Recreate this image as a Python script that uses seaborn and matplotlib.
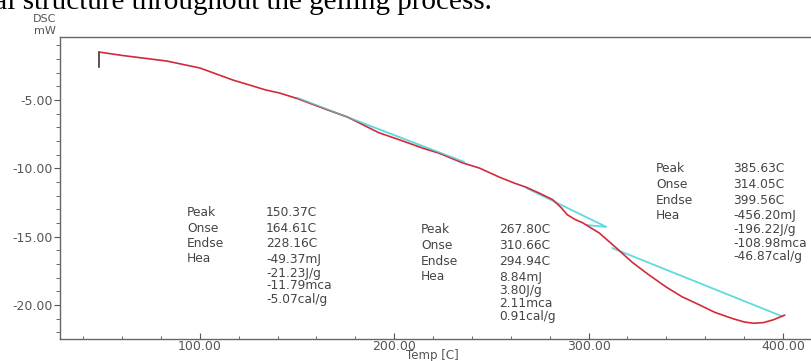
import matplotlib
matplotlib.use("Agg")
import matplotlib.pyplot as plt
import seaborn as sns
import pandas as pd
from matplotlib.ticker import MultipleLocator, FormatStrFormatter

# ---------------- data ----------------
temp = [48, 48, 60, 83, 100, 117, 134, 141, 150, 165, 176, 192, 203, 215, 223, 235,
        244, 254, 262, 268, 275, 281.5, 286, 289, 293, 297, 301, 305.6, 310, 314.4,
        322.6, 331, 340, 348, 357, 365, 374, 380, 385, 390, 395, 401]
dsc = [-2.6, -1.5, -1.75, -2.16, -2.67, -3.55, -4.28, -4.5, -4.9, -5.7, -6.26, -7.4,
       -7.94, -8.55, -8.9, -9.6, -10.0, -10.65, -11.1, -11.4, -11.85, -12.3, -12.9,
       -13.4, -13.75, -14.0, -14.35, -14.75, -15.3, -15.85, -16.9, -17.8, -18.7,
       -19.4, -20.0, -20.55, -21.0, -21.25, -21.35, -21.3, -21.1, -20.75]

base1_t = [150, 236]
base1_y = [-4.85, -9.55]
base2_t = [268, 309.2, 299]
base2_y = [-11.45, -14.3, -14.16]
base3_t = [312.3, 399.8]
base3_y = [-15.85, -20.85]

labels = ["Peak", "Onse", "Endse", "Hea"]
block1 = ["150.37C", "164.61C", "228.16C", "-49.37mJ", "-21.23J/g", "-11.79mca", "-5.07cal/g"]
block2 = ["267.80C", "310.66C", "294.94C", "8.84mJ", "3.80J/g", "2.11mca", "0.91cal/g"]
block3 = ["385.63C", "314.05C", "399.56C", "-456.20mJ", "-196.22J/g", "-108.98mca", "-46.87cal/g"]

x_ticks = [100, 200, 300, 400]
y_ticks = [-5, -10, -15, -20]

# ---------------- figure ----------------
sns.set_theme(style="white")
plt.rcParams["font.family"] = ["DejaVu Sans"]

W, H = 812, 361
fig = plt.figure(figsize=(W / 100, H / 100), dpi=100)
L, T, R, B = 60, 37, 812, 339
ax = fig.add_axes([L / W, (H - B) / H, (R - L) / W, (B - T) / H])

red = "#d22a3c"
cyan = "#5fdade"

for bt, by in [(base1_t, base1_y), (base2_t, base2_y), (base3_t, base3_y)]:
    sns.lineplot(x=bt, y=by, ax=ax, color=cyan, lw=1.3, sort=False, estimator=None)
df = pd.DataFrame({"temp": temp, "dsc": dsc})
sns.lineplot(data=df, x="temp", y="dsc", ax=ax, color=red, lw=1.2, sort=False, estimator=None)
ax.plot(base1_t, base1_y, color=cyan, lw=1.0, alpha=0.6)
ax.plot(temp[:2], dsc[:2], color="#555555", lw=1.3)

ax.set_xlim(28, 415)
ax.set_ylim(-22.5, -0.4)

ax.set_xticks(x_ticks)
ax.set_yticks(y_ticks)
ax.xaxis.set_minor_locator(MultipleLocator(20))
ax.yaxis.set_minor_locator(MultipleLocator(1))
ax.xaxis.set_major_formatter(FormatStrFormatter("%.2f"))
ax.yaxis.set_major_formatter(FormatStrFormatter("%.2f"))

grey = "#555555"
ax.tick_params(axis="y", which="major", direction="out", length=4, width=0.8,
               color=grey, labelsize=9, labelcolor=grey, pad=1, left=True)
ax.tick_params(axis="y", which="minor", direction="out", length=3, width=0.6,
               color=grey, left=True)
ax.tick_params(axis="x", which="major", direction="in", length=4, width=0.8,
               color=grey, labelsize=9, labelcolor=grey, pad=1, bottom=True)
ax.tick_params(axis="x", which="minor", direction="in", length=2, width=0.6,
               color=grey, bottom=True)

for s in ["left", "bottom", "top"]:
    ax.spines[s].set_color("#666666")
    ax.spines[s].set_linewidth(1.0)
ax.spines["right"].set_visible(False)
ax.set_xlabel("")
ax.set_ylabel("")


def fx(px):
    return px / W


def fy(py):
    return 1 - py / H


fig.text(fx(432), fy(356), "Temp [C]", ha="center", va="center", fontsize=8.5, color=grey)
fig.text(fx(45), fy(19.5), "DSC", ha="center", va="center", fontsize=8, color=grey)
fig.text(fx(45), fy(31), "mW", ha="center", va="center", fontsize=8, color=grey)

fig.text(fx(-30), fy(9), "ural structure throughout the gelling process.",
         family=["Liberation Serif"], fontsize=21, color="black", va="baseline", ha="left")

blocks = [
    (187, 266, [212, 228, 243.5, 259, 273, 285.5, 299], block1),
    (421, 499, [229, 245.5, 261.5, 277, 290.5, 303.5, 316.5], block2),
    (656, 733, [169, 184.5, 200.5, 215.5, 230, 243.5, 256.5], block3),
]
for lx, vx, ys, vals in blocks:
    for lab, yy in zip(labels, ys):
        fig.text(fx(lx), fy(yy), lab, ha="left", va="center", fontsize=8.8, color="#444444")
    for v, yy in zip(vals, ys):
        fig.text(fx(vx), fy(yy), v, ha="left", va="center", fontsize=8.8, color="#444444")

fig.savefig("out.png", dpi=100)
